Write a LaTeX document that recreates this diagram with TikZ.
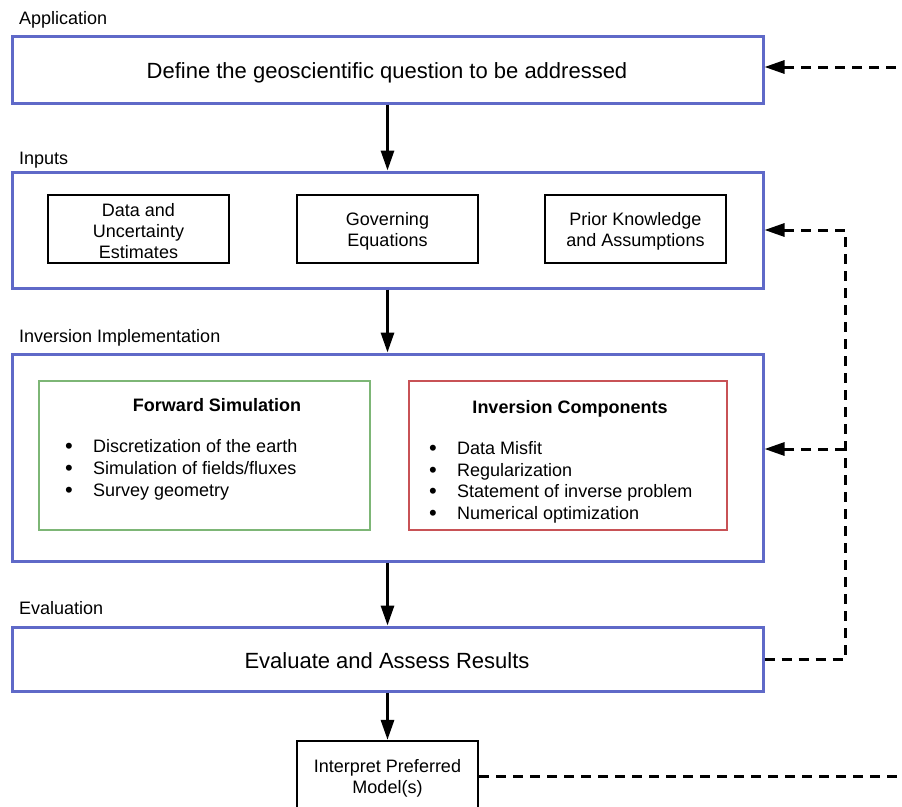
\documentclass[tikz,border=0pt]{standalone}
\usepackage{fontspec}
\setmainfont{Liberation Sans}
\usetikzlibrary{arrows.meta}
\definecolor{bluec}{RGB}{95,105,200}
\definecolor{greenc}{RGB}{125,182,118}
\definecolor{redc}{RGB}{200,82,86}
\newcommand{\bul}{\makebox[29pt][l]{\hspace{1pt}\smash{\raisebox{-1.2pt}{\fontsize{22}{21}\selectfont •}}}}
\begin{document}
\begin{tikzpicture}[x=1pt,y=-1pt,
  bigbox/.style={draw=bluec, line width=3pt, minimum width=751pt, inner sep=0pt, fill=white},
  smallbox/.style={draw=black, line width=2.3pt, minimum width=181pt, minimum height=68pt, inner sep=0pt, fill=white},
  boxtxt/.style={inner sep=0pt, align=center, font=\fontsize{18}{21}\selectfont},
  lbl/.style={anchor=base west, inner sep=0pt, font=\fontsize{18}{21}\selectfont},
  maintxt/.style={anchor=base, inner sep=0pt, font=\fontsize{22}{26}\selectfont},
  item/.style={anchor=base west, inner sep=0pt, font=\fontsize{18}{21}\selectfont},
  ttl/.style={anchor=base, inner sep=0pt, font=\fontsize{18}{21}\selectfont\bfseries},
  arr/.style={line width=3pt, -{Triangle[length=20pt,width=13pt]}},
  darr/.style={line width=3pt, dash pattern=on 10pt off 7pt, -{Triangle[length=20pt,width=13pt]}},
  dline/.style={line width=3pt, dash pattern=on 10pt off 7pt}]
\useasboundingbox (0,0) rectangle (902,806);
\clip (0,0) rectangle (902,806);
\fill[white] (0,0) rectangle (902,806);

% section labels
\node[lbl] (lapp) at (19,24.5) {Application};
\node[lbl] (linp) at (19,164.5) {Inputs};
\node[lbl] (linv) at (19,342.5) {Inversion Implementation};
\node[lbl] (leval) at (19,614.5) {Evaluation};

% big boxes
\node[bigbox, minimum height=67pt] (app) at (387.5,69.5) {};
\node[maintxt] (apptxt) at (387,78) {Define the geoscientific question to be addressed};

\node[bigbox, minimum height=116pt] (inp) at (387.5,230) {};
\node[smallbox] (data) at (138.5,229) {};
\node[boxtxt] (datat) at (138.5,231.5) {Data and\\Uncertainty\\Estimates};
\node[smallbox] (gov) at (387.5,229) {};
\node[boxtxt] (govt) at (387.5,231.5) {Governing\\Equations};
\node[smallbox] (prior) at (635.5,229) {};
\node[boxtxt] (priort) at (635.5,231.5) {Prior Knowledge\\and Assumptions};

\node[bigbox, minimum height=207pt] (inv) at (387.5,457.5) {};
\node[draw=greenc, line width=2.6pt, minimum width=331pt, minimum height=149pt, inner sep=0pt] (fwd) at (204.5,455.5) {};
\node[draw=redc, line width=2.6pt, minimum width=318pt, minimum height=149pt, inner sep=0pt] (invc) at (568,455.5) {};
\node[ttl] (fwdt) at (217,411.5) {Forward Simulation};
\node[item] (f1) at (64,452.5) {\bul Discretization of the earth};
\node[item] (f2) at (64,474.5) {\bul Simulation of fields/fluxes};
\node[item] (f3) at (64,496.5) {\bul Survey geometry};
\node[ttl] (invt) at (570,413.5) {Inversion Components};
\node[item] (i1) at (428,454.5) {\bul Data Misfit};
\node[item] (i2) at (428,476) {\bul Regularization};
\node[item] (i3) at (428,497.5) {\bul Statement of inverse problem};
\node[item] (i4) at (428,519) {\bul Numerical optimization};

\node[bigbox, minimum height=64pt] (eval) at (387.5,659) {};
\node[maintxt] (evaltxt) at (387,668) {Evaluate and Assess Results};

\node[smallbox] (interp) at (387.5,775) {};
\node[boxtxt] (interpt) at (387.5,778) {Interpret Preferred\\Model(s)};

% solid arrows
\draw[arr] (app.south) -- (inp.north);
\draw[arr] (inp.south) -- (inv.north);
\draw[arr] (inv.south) -- (eval.north);
\draw[arr] (eval.south) -- (interp.north);

% dashed feedback
\coordinate (offA) at (930,67);
\coordinate (offB) at (930,776);
\coordinate (cbot) at (845,659);
\coordinate (ctop) at (845,230);
\coordinate (cmid) at (845,449);
\draw[darr] (offA) -- (offA -| app.east);
\draw[darr] (eval.east) -- (cbot) -- (ctop) -- (ctop -| inp.east);
\draw[darr] (cmid) -- (cmid -| inv.east);
\draw[dline] (interp.east |- offB) -- (offB);
\end{tikzpicture}
\end{document}
